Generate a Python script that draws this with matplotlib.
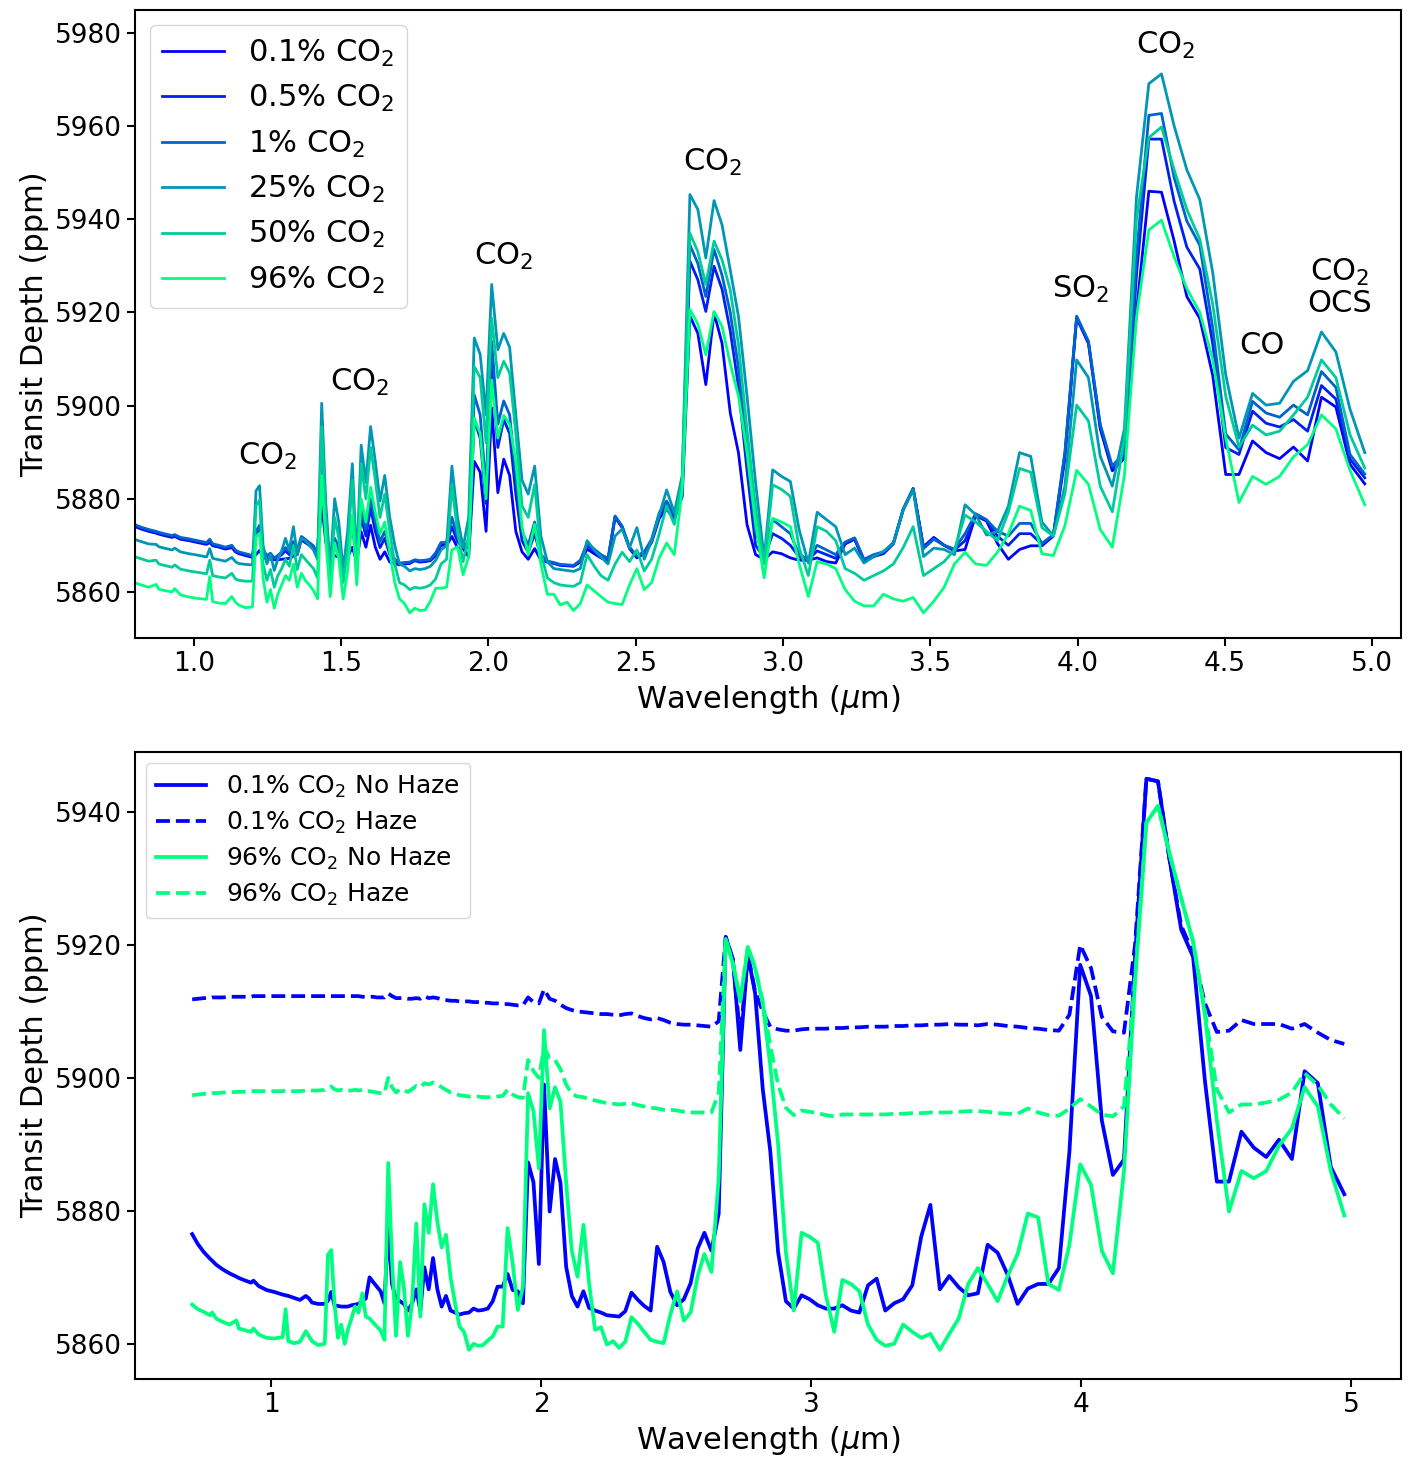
import matplotlib
matplotlib.use("Agg")
import matplotlib.pyplot as plt

# wavelength grid (micron)
wl = [0.708, 0.729, 0.751, 0.774, 0.782, 0.797, 0.821, 0.846, 0.872, 0.881, 0.899, 0.926, 0.935, 0.954, 0.983,
      1.012, 1.043, 1.054, 1.064, 1.085, 1.107, 1.129, 1.141, 1.152, 1.175,
      1.199, 1.211, 1.223, 1.235, 1.248, 1.260, 1.273, 1.285, 1.298, 1.311, 1.324, 1.338, 1.351, 1.365, 1.378,
      1.392, 1.406, 1.420,
      1.434, 1.448, 1.463, 1.478, 1.492, 1.507, 1.522, 1.538, 1.553, 1.568, 1.584, 1.600, 1.616, 1.632, 1.648,
      1.665, 1.682, 1.698, 1.715, 1.733, 1.750, 1.767,
      1.785, 1.803, 1.821, 1.839, 1.858, 1.876, 1.895, 1.914, 1.933, 1.952, 1.972, 1.992, 2.011, 2.032, 2.052,
      2.072, 2.093, 2.114, 2.135, 2.157, 2.178, 2.200, 2.222, 2.244, 2.267, 2.289,
      2.312, 2.335, 2.359, 2.382, 2.406, 2.430, 2.454, 2.479, 2.504, 2.529, 2.554, 2.580, 2.605, 2.631, 2.658,
      2.684, 2.711, 2.738, 2.766, 2.793, 2.821, 2.849, 2.878, 2.907, 2.936, 2.965, 2.995,
      3.025, 3.055, 3.086, 3.116, 3.148, 3.179, 3.211, 3.243, 3.275, 3.308, 3.341, 3.375, 3.408, 3.442, 3.477,
      3.512, 3.547, 3.582, 3.618, 3.654, 3.691, 3.728, 3.765, 3.803, 3.841, 3.879, 3.918,
      3.957, 3.997, 4.037, 4.077, 4.118, 4.159, 4.200, 4.242, 4.285, 4.328, 4.371, 4.415, 4.459, 4.503, 4.548,
      4.594, 4.640, 4.686, 4.733, 4.781, 4.828, 4.877, 4.925, 4.975]

# top panel (starts at the 6th grid point, 0.797 um)
co2_01 = [5874.1, 5873.5, 5873.0, 5872.6, 5872.4, 5872.1, 5871.7, 5871.9, 5871.3, 5871.0, 5870.6, 5870.2, 5870.6,
          5869.9, 5869.6, 5869.2, 5869.5, 5868.6, 5868.2, 5867.8,
          5867.4, 5868.0, 5868.9, 5867.3, 5867.2, 5867.0, 5866.9, 5866.9, 5867.0, 5867.1, 5867.2, 5867.7, 5868.0,
          5871.2, 5870.6, 5870.0, 5869.3, 5867.5,
          5879.0, 5870.5, 5868.0, 5867.8, 5867.4, 5866.4, 5867.4, 5869.6, 5866.4, 5872.9, 5869.6, 5874.3, 5869.6,
          5867.0, 5868.6, 5866.4, 5866.1, 5865.8, 5866.0, 5866.1, 5866.7, 5866.4,
          5866.5, 5866.7, 5867.8, 5870.0, 5870.0, 5871.9, 5869.5, 5869.3, 5867.5, 5888.0, 5885.7, 5873.0, 5899.5,
          5881.3, 5888.5, 5885.0, 5873.0, 5868.6, 5867.0, 5869.3, 5866.8, 5866.4, 5866.1, 5865.7, 5865.6, 5865.5,
          5866.4, 5869.2, 5868.2, 5867.3, 5866.6, 5876.0, 5873.8, 5869.3, 5867.3, 5868.2, 5870.6, 5875.8, 5877.8,
          5875.5, 5880.5, 5919.2, 5915.5, 5904.5, 5919.9, 5913.4, 5898.4, 5889.8, 5874.4, 5868.0, 5867.0, 5868.6,
          5868.2,
          5867.3, 5866.8, 5866.8, 5867.3, 5866.5, 5866.2, 5870.3, 5871.3, 5866.5, 5867.6, 5868.2, 5870.3, 5877.6,
          5882.1, 5869.7, 5871.7, 5870.0, 5868.8, 5869.1, 5876.4, 5875.2, 5870.4, 5867.0, 5869.1, 5869.9, 5869.9,
          5872.0,
          5888.6, 5918.8, 5913.3, 5895.0, 5886.0, 5888.7, 5920.0, 5946.0, 5945.8, 5935.3, 5923.4, 5918.7, 5906.4,
          5885.2, 5885.2, 5892.4, 5889.9, 5888.6, 5891.1, 5888.1, 5901.8, 5899.7, 5887.4, 5883.2]
co2_05 = [5874.3, 5873.7, 5873.2, 5872.8, 5872.6, 5872.3, 5871.9, 5872.1, 5871.5, 5871.2, 5870.8, 5870.4, 5871.0,
          5870.1, 5869.8, 5869.4, 5869.8, 5868.8, 5868.4, 5868.0,
          5867.6, 5872.0, 5873.2, 5868.5, 5867.6, 5867.8, 5867.0, 5867.4, 5868.0, 5868.8, 5868.0, 5869.8, 5868.5,
          5871.6, 5871.0, 5870.3, 5869.6, 5867.8,
          5886.0, 5873.0, 5867.5, 5870.5, 5869.0, 5866.2, 5869.0, 5874.0, 5866.6, 5876.0, 5872.0, 5878.0, 5873.0,
          5869.5, 5871.5, 5868.0, 5866.6, 5866.0, 5866.2, 5866.3, 5866.8, 5866.6,
          5866.7, 5866.9, 5868.2, 5870.4, 5870.4, 5874.0, 5870.8, 5869.6, 5869.5, 5897.0, 5893.0, 5879.0, 5909.0,
          5891.0, 5897.0, 5894.0, 5881.0, 5871.0, 5868.5, 5872.5, 5867.5, 5866.5, 5866.2, 5865.8, 5865.7, 5865.6,
          5866.6, 5870.0, 5868.8, 5867.7, 5867.0, 5876.2, 5874.0, 5869.5, 5867.6, 5868.4, 5871.0, 5876.5, 5879.0,
          5876.0, 5882.0, 5931.0, 5927.0, 5920.2, 5929.9, 5925.0, 5916.0, 5904.0, 5886.0, 5870.0, 5867.3, 5872.5,
          5871.5,
          5870.0, 5867.5, 5866.9, 5868.8, 5868.0, 5867.2, 5870.5, 5871.5, 5866.8, 5867.8, 5868.4, 5870.5, 5877.7,
          5882.2, 5869.5, 5871.5, 5870.0, 5869.0, 5871.0, 5876.6, 5875.4, 5872.0, 5870.0, 5872.5, 5872.5, 5870.2,
          5872.2,
          5889.5, 5919.0, 5913.6, 5895.5, 5886.6, 5889.0, 5928.0, 5957.2, 5957.2, 5943.8, 5934.0, 5929.3, 5913.2,
          5891.0, 5889.5, 5898.8, 5896.2, 5895.4, 5897.0, 5894.5, 5904.3, 5901.4, 5888.5, 5884.5]
co2_1 = [5874.5, 5873.9, 5873.4, 5873.0, 5872.8, 5872.5, 5872.1, 5872.3, 5871.7, 5871.4, 5871.0, 5870.6, 5871.3,
         5870.3, 5870.0, 5869.6, 5870.0, 5869.0, 5868.6, 5868.2,
         5867.8, 5873.0, 5874.3, 5869.0, 5867.8, 5868.3, 5867.3, 5867.8, 5868.6, 5869.5, 5868.6, 5870.8, 5869.0,
         5871.9, 5871.3, 5870.6, 5869.9, 5868.0,
         5889.0, 5874.0, 5867.0, 5871.5, 5869.6, 5866.0, 5870.0, 5876.0, 5866.8, 5878.0, 5873.5, 5880.0, 5875.0,
         5870.8, 5873.0, 5869.0, 5867.0, 5866.2, 5866.3, 5866.4, 5866.9, 5866.7,
         5866.8, 5867.0, 5868.4, 5870.6, 5870.6, 5876.0, 5871.8, 5870.0, 5870.5, 5902.3, 5898.0, 5882.0, 5913.8,
         5896.0, 5901.0, 5898.0, 5885.0, 5873.0, 5870.0, 5875.0, 5868.0, 5866.6, 5866.3, 5865.9, 5865.8, 5865.7,
         5866.8, 5870.5, 5869.2, 5868.0, 5867.2, 5876.3, 5874.1, 5869.6, 5867.8, 5868.6, 5871.3, 5877.0, 5879.5,
         5876.5, 5883.0, 5934.5, 5930.5, 5923.4, 5933.5, 5928.0, 5920.0, 5908.0, 5890.0, 5873.0, 5867.6, 5875.5,
         5874.0,
         5872.5, 5868.0, 5867.0, 5870.0, 5869.0, 5868.0, 5870.7, 5871.6, 5867.0, 5868.0, 5868.6, 5870.6, 5877.8,
         5882.2, 5869.3, 5871.3, 5870.0, 5869.2, 5872.5, 5876.8, 5875.5, 5873.0, 5872.0, 5874.7, 5874.7, 5870.4,
         5872.3,
         5890.0, 5919.2, 5913.8, 5896.0, 5887.0, 5890.0, 5932.0, 5962.3, 5962.7, 5948.9, 5939.6, 5934.4, 5916.6,
         5893.9, 5890.5, 5900.9, 5898.4, 5897.5, 5900.1, 5898.0, 5907.3, 5903.9, 5889.5, 5885.3]
co2_25 = [5871.3, 5870.8, 5870.3, 5870.2, 5869.7, 5869.4, 5869.0, 5869.4, 5868.6, 5868.2, 5867.9, 5867.5, 5869.3,
          5867.2, 5866.9, 5866.6, 5867.4, 5866.5, 5866.1, 5865.9,
          5865.8, 5881.7, 5882.8, 5870.0, 5866.0, 5868.0, 5864.6, 5867.0, 5868.8, 5871.5, 5869.0, 5874.0, 5868.0,
          5871.5, 5871.0, 5870.0, 5869.0, 5867.0,
          5900.5, 5879.0, 5865.0, 5880.0, 5875.0, 5864.5, 5873.0, 5887.5, 5866.0, 5891.5, 5883.5, 5895.5, 5888.0,
          5879.5, 5885.0, 5876.0, 5870.0, 5866.0, 5865.5, 5864.5, 5865.0, 5864.8,
          5865.0, 5865.5, 5866.8, 5869.0, 5870.0, 5887.0, 5876.0, 5869.5, 5876.0, 5914.5, 5911.0, 5898.0, 5926.0,
          5912.0, 5915.5, 5912.5, 5898.0, 5884.0, 5881.0, 5887.0, 5872.0, 5866.5, 5865.0, 5864.8, 5864.6, 5864.4,
          5865.0, 5871.0, 5869.0, 5867.5, 5866.0, 5872.0, 5873.5, 5869.5, 5873.8, 5867.0, 5871.0, 5876.5, 5881.9,
          5877.0, 5885.0, 5945.3, 5942.1, 5931.7, 5944.0, 5938.8, 5929.1, 5919.1, 5902.0, 5883.4, 5867.2, 5886.2,
          5884.8,
          5883.7, 5873.3, 5866.2, 5877.1, 5875.5, 5874.0, 5868.0, 5869.4, 5866.2, 5867.6, 5868.7, 5870.4, 5877.6,
          5881.9, 5867.6, 5869.4, 5869.1, 5868.0, 5878.7, 5876.6, 5872.2, 5873.0, 5878.4, 5889.9, 5889.1, 5875.0,
          5872.0,
          5882.7, 5909.8, 5906.0, 5889.1, 5882.7, 5895.0, 5944.7, 5969.1, 5971.2, 5960.0, 5950.6, 5944.2, 5928.5,
          5906.6, 5893.0, 5902.6, 5900.1, 5900.5, 5905.2, 5907.5, 5915.8, 5911.5, 5899.2, 5889.9]
co2_50 = [5867.6, 5867.1, 5866.6, 5866.8, 5866.0, 5865.7, 5865.3, 5865.8, 5864.9, 5864.5, 5864.2, 5863.9, 5866.8,
          5863.5, 5863.2, 5863.0, 5864.0, 5862.8, 5862.5, 5862.3,
          5862.3, 5878.5, 5879.7, 5866.0, 5862.5, 5864.8, 5861.0, 5863.5, 5865.0, 5867.0, 5865.5, 5870.0, 5864.8,
          5868.0, 5867.0, 5866.0, 5865.0, 5863.0,
          5895.5, 5876.0, 5862.0, 5876.0, 5871.5, 5862.0, 5869.5, 5884.0, 5863.0, 5887.5, 5880.0, 5891.0, 5884.0,
          5876.0, 5881.0, 5873.0, 5866.0, 5862.0, 5861.5, 5860.5, 5861.0, 5860.8,
          5861.0, 5861.5, 5862.8, 5866.0, 5867.0, 5883.0, 5873.0, 5866.5, 5872.0, 5908.4, 5906.0, 5892.0, 5918.8,
          5906.0, 5909.5, 5907.0, 5894.0, 5878.5, 5876.0, 5883.0, 5868.5, 5863.0, 5862.0, 5861.5, 5861.3, 5861.2,
          5862.0, 5868.0, 5865.5, 5863.5, 5862.5, 5866.0, 5868.5, 5866.5, 5869.0, 5864.5, 5867.0, 5872.5, 5878.5,
          5874.5, 5884.0, 5937.0, 5933.0, 5926.0, 5935.3, 5931.3, 5924.8, 5913.0, 5894.8, 5878.0, 5866.0, 5883.0,
          5882.0,
          5880.5, 5869.5, 5863.5, 5874.0, 5873.0, 5871.0, 5865.0, 5864.0, 5862.5, 5863.5, 5864.5, 5866.0, 5869.5,
          5874.0, 5863.5, 5865.0, 5866.5, 5869.0, 5876.5, 5875.0, 5873.0, 5871.0, 5877.1, 5886.5, 5885.7, 5873.8,
          5872.0,
          5881.1, 5900.1, 5896.7, 5882.7, 5877.2, 5893.0, 5940.0, 5957.5, 5959.8, 5950.6, 5942.1, 5935.7, 5921.7,
          5902.0, 5891.1, 5895.8, 5893.7, 5894.5, 5898.0, 5901.8, 5909.8, 5906.0, 5893.7, 5886.6]
co2_96 = [5862.0, 5861.5, 5861.0, 5861.6, 5860.6, 5860.3, 5860.0, 5860.7, 5859.4, 5858.9, 5858.6, 5858.4, 5863.3,
          5857.9, 5857.6, 5857.5, 5859.0, 5857.8, 5857.2, 5856.6,
          5856.8, 5871.8, 5872.6, 5863.0, 5857.8, 5860.5, 5856.5, 5859.5, 5861.5, 5863.5, 5862.5, 5866.0, 5861.0,
          5864.0, 5862.5, 5861.5, 5860.3, 5858.5,
          5885.0, 5871.0, 5859.0, 5870.5, 5867.0, 5858.5, 5864.5, 5876.5, 5861.5, 5880.0, 5875.0, 5882.5, 5877.0,
          5872.5, 5875.0, 5868.5, 5862.0, 5858.5, 5857.5, 5855.5, 5856.5, 5856.0,
          5856.1, 5858.0, 5860.8, 5860.8, 5861.0, 5869.0, 5869.7, 5863.7, 5867.6, 5897.3, 5894.0, 5880.0, 5905.5,
          5893.0, 5897.9, 5896.0, 5888.0, 5874.0, 5868.0, 5874.5, 5866.0, 5859.5, 5859.5, 5857.2, 5857.8, 5856.0,
          5857.5, 5861.5, 5860.2, 5859.0, 5857.8, 5857.5, 5857.3, 5861.5, 5865.0, 5860.5, 5862.0, 5867.3, 5870.5,
          5868.0, 5882.0, 5920.6, 5917.5, 5910.9, 5920.2, 5917.0, 5909.0, 5902.0, 5889.8, 5874.7, 5863.0, 5875.8,
          5875.0,
          5874.0, 5866.0, 5859.0, 5866.5, 5866.0, 5865.0, 5860.5, 5858.0, 5857.0, 5857.0, 5859.5, 5858.5, 5858.0,
          5858.8, 5855.5, 5858.0, 5861.0, 5866.0, 5868.5, 5866.0, 5865.7, 5868.5, 5872.5, 5878.4, 5877.5, 5868.2,
          5867.8,
          5874.2, 5886.1, 5883.1, 5873.4, 5869.6, 5885.0, 5919.0, 5937.7, 5939.8, 5931.9, 5925.1, 5920.0, 5909.8,
          5893.0, 5879.2, 5884.8, 5883.1, 5884.8, 5889.0, 5891.6, 5898.0, 5895.0, 5886.1, 5878.7]

# bottom panel (full grid)
low_nohaze = [5876.5, 5875.0, 5873.8, 5872.8, 5872.5, 5871.9, 5871.2, 5870.6, 5870.1, 5869.9, 5869.6, 5869.2, 5869.5,
              5868.7, 5868.1, 5867.8, 5867.4, 5867.3, 5867.2, 5866.9, 5866.6, 5867.2, 5866.8, 5866.2, 5866.0,
              5866.0, 5866.5, 5867.8, 5865.8, 5865.7, 5865.6, 5865.6, 5865.6, 5865.8, 5865.9, 5866.0, 5866.5, 5866.8,
              5870.0, 5869.3, 5868.6, 5867.9, 5866.1,
              5877.8, 5869.0, 5866.7, 5866.4, 5866.0, 5865.0, 5866.0, 5868.2, 5865.0, 5871.5, 5868.2, 5872.9, 5868.2,
              5865.6, 5867.2, 5865.0, 5864.7, 5864.4, 5864.6, 5864.7, 5865.3, 5865.0,
              5865.1, 5865.3, 5866.4, 5868.6, 5868.6, 5870.5, 5868.1, 5867.9, 5866.1, 5887.3, 5884.3, 5872.0, 5899.0,
              5879.9, 5887.8, 5884.2, 5871.6, 5867.2, 5865.6, 5867.9, 5865.4, 5865.0, 5864.7, 5864.3, 5864.2, 5864.1,
              5864.9, 5867.7, 5866.6, 5865.7, 5865.0, 5874.6, 5872.3, 5867.8, 5865.8, 5866.7, 5869.1, 5874.3, 5876.7,
              5874.0, 5879.6, 5921.2, 5917.7, 5904.2, 5918.5, 5912.7, 5898.4, 5889.0, 5873.8, 5866.4, 5865.3, 5867.3,
              5866.7,
              5865.8, 5865.3, 5865.3, 5865.8, 5865.0, 5864.7, 5868.8, 5869.8, 5865.0, 5866.1, 5866.7, 5868.8, 5876.1,
              5880.9, 5868.2, 5870.2, 5868.5, 5867.3, 5867.6, 5874.9, 5873.7, 5870.4, 5866.0, 5868.3, 5869.0, 5869.0,
              5871.4,
              5888.9, 5917.0, 5912.3, 5893.6, 5885.4, 5887.7, 5918.2, 5945.0, 5944.6, 5932.8, 5922.3, 5918.2, 5899.5,
              5884.4, 5884.4, 5891.9, 5889.5, 5888.1, 5890.7, 5887.8, 5901.0, 5899.2, 5886.6, 5882.5]
low_haze = [5911.8, 5911.9, 5912.0, 5912.0, 5912.1, 5912.1, 5912.1, 5912.2, 5912.2, 5912.2, 5912.2, 5912.2, 5912.3,
            5912.3, 5912.3, 5912.3, 5912.3, 5912.3, 5912.3, 5912.3, 5912.3, 5912.3, 5912.3, 5912.3, 5912.3,
            5912.3, 5912.3, 5912.3, 5912.3, 5912.3, 5912.3, 5912.3, 5912.3, 5912.3, 5912.3, 5912.3, 5912.2, 5912.2,
            5912.2, 5912.2, 5912.1, 5912.1, 5912.1,
            5912.7, 5912.3, 5912.0, 5912.0, 5912.0, 5911.9, 5911.9, 5912.0, 5911.9, 5912.3, 5912.0, 5912.1, 5912.0,
            5911.8, 5911.7, 5911.6, 5911.6, 5911.5, 5911.5, 5911.5, 5911.4, 5911.4,
            5911.3, 5911.3, 5911.2, 5911.2, 5911.1, 5911.1, 5911.0, 5910.9, 5910.9, 5912.1, 5911.4, 5911.2, 5913.3,
            5911.9, 5911.6, 5911.0, 5910.5, 5910.2, 5910.0, 5909.9, 5909.8, 5909.7, 5909.6, 5909.6, 5909.5, 5909.4,
            5909.6, 5909.7, 5909.3, 5909.0, 5908.8, 5909.0, 5908.7, 5908.3, 5908.1, 5908.0, 5908.0, 5907.9, 5907.8,
            5907.7, 5908.5, 5921.2, 5917.8, 5906.0, 5918.6, 5913.0, 5910.0, 5907.7, 5907.3, 5907.1, 5907.1, 5907.3,
            5907.4,
            5907.4, 5907.4, 5907.5, 5907.5, 5907.6, 5907.6, 5907.7, 5907.7, 5907.7, 5907.8, 5907.8, 5907.9, 5907.9,
            5908.0, 5908.0, 5908.1, 5908.0, 5908.0, 5907.9, 5908.1, 5908.0, 5907.8, 5907.7, 5907.5, 5907.4, 5907.2,
            5907.1,
            5909.5, 5920.0, 5916.5, 5909.2, 5907.0, 5906.8, 5920.0, 5945.0, 5944.6, 5932.8, 5922.9, 5918.8, 5911.2,
            5906.9, 5907.1, 5908.7, 5908.1, 5908.1, 5908.1, 5907.4, 5908.1, 5906.8, 5905.7, 5905.1]
high_nohaze = [5865.9, 5865.2, 5864.8, 5864.3, 5864.7, 5863.8, 5863.3, 5862.9, 5863.5, 5862.3, 5862.1, 5861.8, 5862.3,
               5861.4, 5860.9, 5860.8, 5861.0, 5865.2, 5860.4, 5860.1, 5860.3, 5861.9, 5861.1, 5860.4, 5859.8,
               5860.0, 5873.4, 5874.1, 5866.0, 5860.9, 5862.9, 5860.0, 5862.2, 5863.8, 5865.6, 5864.7, 5867.6, 5864.1,
               5863.8, 5863.2, 5862.6, 5862.0, 5860.6,
               5887.2, 5872.6, 5861.2, 5872.3, 5868.5, 5861.2, 5866.0, 5878.1, 5864.1, 5881.0, 5876.7, 5884.0, 5878.4,
               5874.5, 5876.4, 5870.0, 5866.0, 5862.6, 5861.8, 5859.1, 5860.0, 5859.7,
               5859.8, 5860.5, 5861.1, 5862.6, 5862.6, 5877.4, 5872.1, 5865.1, 5868.6, 5897.7, 5895.0, 5886.4, 5907.2,
               5895.4, 5898.6, 5896.4, 5884.2, 5874.0, 5870.1, 5877.9, 5869.1, 5862.1, 5862.5, 5859.9, 5860.4, 5859.4,
               5860.3, 5864.0, 5863.0, 5861.8, 5860.6, 5860.3, 5860.1, 5864.4, 5867.9, 5863.5, 5864.7, 5870.2, 5873.5,
               5870.8, 5884.9, 5920.9, 5917.1, 5911.5, 5919.7, 5916.5, 5911.2, 5901.9, 5890.1, 5873.7, 5865.0, 5876.7,
               5876.1,
               5875.2, 5867.3, 5861.8, 5869.6, 5869.0, 5867.9, 5862.9, 5860.6, 5859.7, 5860.0, 5862.9, 5861.8, 5860.9,
               5861.5, 5859.1, 5861.5, 5863.8, 5869.0, 5871.4, 5869.0, 5866.4, 5870.2, 5873.5, 5879.6, 5879.0, 5869.0,
               5868.1,
               5874.9, 5887.0, 5883.9, 5874.0, 5870.6, 5886.0, 5914.5, 5938.4, 5940.9, 5933.7, 5927.0, 5920.5, 5909.4,
               5893.6, 5879.9, 5886.0, 5884.9, 5886.0, 5889.8, 5892.4, 5898.6, 5895.7, 5886.0, 5879.3]
high_haze = [5897.4, 5897.5, 5897.6, 5897.6, 5897.7, 5897.7, 5897.8, 5897.8, 5897.9, 5897.9, 5897.9, 5898.0, 5898.0,
             5898.0, 5898.0, 5898.0, 5898.0, 5898.1, 5898.0, 5898.0, 5898.0, 5898.1, 5898.1, 5898.1, 5898.1,
             5898.2, 5898.5, 5898.7, 5898.3, 5898.1, 5898.2, 5898.0, 5898.1, 5898.1, 5898.2, 5898.1, 5898.2, 5898.0,
             5898.0, 5897.9, 5897.8, 5897.7, 5897.7,
             5900.0, 5898.6, 5897.8, 5898.3, 5898.1, 5897.9, 5898.3, 5898.8, 5898.6, 5899.2, 5899.0, 5899.3, 5899.0,
             5898.6, 5898.2, 5897.8, 5897.6, 5897.4, 5897.3, 5897.2, 5897.2, 5897.2,
             5897.1, 5897.1, 5897.1, 5897.2, 5897.3, 5898.2, 5897.5, 5897.1, 5897.0, 5902.7, 5901.0, 5900.0, 5904.5,
             5903.0, 5902.7, 5901.3, 5899.0, 5897.6, 5897.2, 5897.1, 5896.8, 5896.6, 5896.4, 5896.2, 5896.1, 5896.0,
             5896.1, 5896.2, 5895.9, 5895.7, 5895.5, 5895.4, 5895.2, 5895.2, 5895.1, 5894.9, 5894.8, 5894.8, 5894.8,
             5894.8, 5897.7, 5920.9, 5917.2, 5911.7, 5919.7, 5916.6, 5911.5, 5904.9, 5899.0, 5895.5, 5894.4, 5895.1,
             5894.9,
             5894.7, 5894.4, 5894.2, 5894.5, 5894.5, 5894.5, 5894.5, 5894.5, 5894.5, 5894.6, 5894.6, 5894.7, 5894.7,
             5894.8, 5894.8, 5894.8, 5894.9, 5895.0, 5895.0, 5894.9, 5894.7, 5894.6, 5894.6, 5895.4, 5894.8, 5894.4,
             5894.3,
             5895.4, 5896.8, 5895.7, 5894.5, 5894.2, 5895.7, 5915.0, 5938.4, 5940.9, 5933.7, 5927.0, 5920.5, 5910.0,
             5898.3, 5894.8, 5896.0, 5896.0, 5896.3, 5896.7, 5897.8, 5900.7, 5898.9, 5896.0, 5893.9]

top_labels = ['0.1% CO$_2$', '0.5% CO$_2$', '1% CO$_2$', '25% CO$_2$', '50% CO$_2$', '96% CO$_2$']
top_colors = ['#0000ff', '#0020ef', '#0062ce', '#0097b4', '#00cc99', '#00ff80']

labels = [(1.25, 5889.0, 'CO$_2$'), (1.564, 5905.0, 'CO$_2$'), (2.053, 5932.0, 'CO$_2$'),
          (2.762, 5952.2, 'CO$_2$'), (4.01, 5925.0, 'SO$_2$'), (4.30, 5977.2, 'CO$_2$'),
          (4.627, 5913.0, 'CO'), (4.89, 5925.3, 'CO$_2$\nOCS')]

plt.rcParams['xtick.major.size'] = 6
plt.rcParams['ytick.major.size'] = 6
plt.rcParams['xtick.major.width'] = 1.5
plt.rcParams['ytick.major.width'] = 1.5
plt.rcParams['axes.linewidth'] = 1.5

fig = plt.figure(figsize=(14.13, 14.57), dpi=100)
ax1 = fig.add_axes([0.0955, 0.5621, 0.8960, 0.4310])
ax2 = fig.add_axes([0.0955, 0.0535, 0.8960, 0.4303])

wl_top = wl[5:]
for ys, lab, c in zip([co2_01, co2_05, co2_1, co2_25, co2_50, co2_96], top_labels, top_colors):
    ax1.plot(wl_top, ys, color=c, lw=2, label=lab)
for x, y, s in labels:
    ax1.text(x, y, s, fontsize=22, ha='center', va='center', linespacing=1.05)
ax1.set_xlim(0.8, 5.098)
ax1.set_ylim(5850.1, 5984.9)
ax1.set_xticks([1.0, 1.5, 2.0, 2.5, 3.0, 3.5, 4.0, 4.5, 5.0])
ax1.set_yticks([5860, 5880, 5900, 5920, 5940, 5960, 5980])
ax1.tick_params(labelsize=19)
ax1.set_xlabel('Wavelength ($\\mu$m)', fontsize=22, labelpad=4)
ax1.set_ylabel('Transit Depth (ppm)', fontsize=22)
ax1.legend(loc='upper left', fontsize=22, labelspacing=0.47)

ax2.plot(wl, low_nohaze, color='#0000ff', lw=2.7, label='0.1% CO$_2$ No Haze')
ax2.plot(wl, low_haze, color='#0000ff', lw=2.7, ls='--', label='0.1% CO$_2$ Haze')
ax2.plot(wl, high_nohaze, color='#00ff80', lw=2.7, label='96% CO$_2$ No Haze')
ax2.plot(wl, high_haze, color='#00ff80', lw=2.7, ls='--', label='96% CO$_2$ Haze')
ax2.set_xlim(0.496, 5.185)
ax2.set_ylim(5854.7, 5949.0)
ax2.set_xticks([1, 2, 3, 4, 5])
ax2.set_yticks([5860, 5880, 5900, 5920, 5940])
ax2.tick_params(labelsize=19)
ax2.set_xlabel('Wavelength ($\\mu$m)', fontsize=22, labelpad=4)
ax2.set_ylabel('Transit Depth (ppm)', fontsize=22)
ax2.legend(loc='upper left', fontsize=18, labelspacing=0.4, borderaxespad=0.45)

fig.savefig('out.png', dpi=100)
